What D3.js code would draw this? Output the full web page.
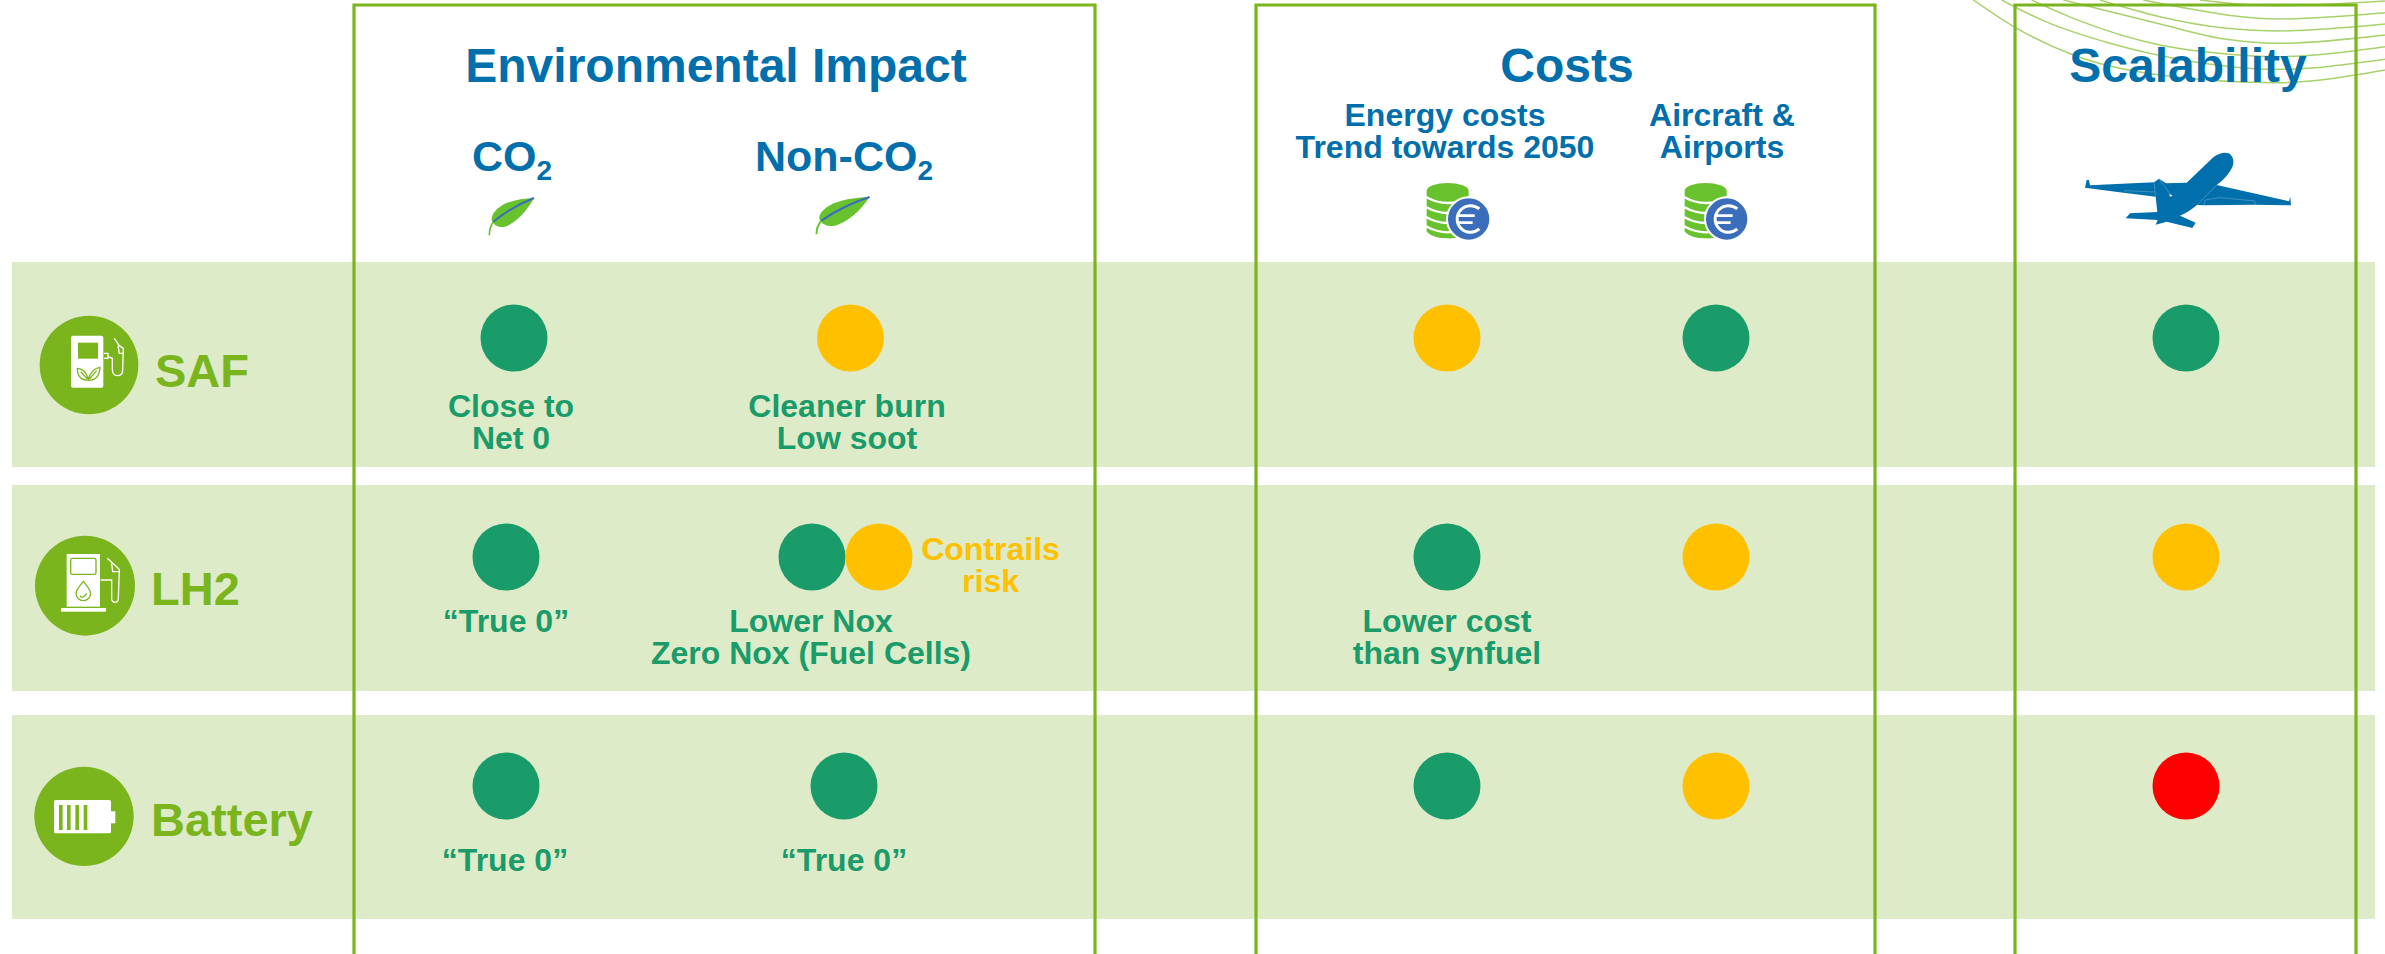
<!DOCTYPE html>
<html><head><meta charset="utf-8">
<style>html,body{margin:0;padding:0;background:#fff}svg{display:block}text{font-family:"Liberation Sans",Arial,sans-serif;font-weight:700}</style>
<script src="https://cdn.jsdelivr.net/npm/d3@7"></script></head>
<body><svg id="c" width="2385" height="954"></svg>
<script>
// ---------- data ----------
const rows = ["SAF", "LH2", "Battery"];
const columns = ["co2", "nonCo2", "energy", "infra", "scale"];
const statusLevels = ["good", "fair", "poor"];
const co2Status = [["good"], ["good"], ["good"]];
const nonCo2Status = [["fair"], ["good", "fair"], ["good"]];
const energyStatus = [["fair"], ["good"], ["good"]];
const infraStatus = [["good"], ["fair"], ["fair"]];
const scaleStatus = [["good"], ["fair"], ["poor"]];
const co2Notes = [["Close to", "Net 0"], ["“True 0”"], ["“True 0”"]];
const nonCo2Notes = [["Cleaner burn", "Low soot"], ["Lower Nox", "Zero Nox (Fuel Cells)"], ["“True 0”"]];
const energyNotes = [[], ["Lower cost", "than synfuel"], []];
const contrailNote = ["Contrails", "risk"];
const groupTitles = ["Environmental Impact", "Costs", "Scalability"];
const energyHead = ["Energy costs", "Trend towards 2050"];
const infraHead = ["Aircraft &", "Airports"];

// ---------- style + layout ----------
const C = {green:"#7AB51D", band:"#DEEBC8", blue:"#006FAC", leaf:"#67C22E", coinBlue:"#3A6EBB", arc:"#A9D16B"};
const colorOf = d3.scaleOrdinal(statusLevels, ["#1A9B6A", "#FFC000", "#FF0000"]);
const rowBand = d3.scaleOrdinal(rows, [[262,467],[485,691],[715,919]]);
const rowY = d3.scaleOrdinal(rows, [338,557,786]);
const colX = d3.scaleOrdinal(columns, [506,844,1447,1716,2186]);
const shift = {"SAF|co2":8, "SAF|nonCo2":6.5, "LH2|nonCo2":-32};
const R = 33.5, NOTE = 32, LINE = 32;
const svg = d3.select("#c");

// ---------- rows ----------
svg.append("g").selectAll("rect").data(rows).join("rect")
  .attr("x",12).attr("width",2363)
  .attr("y",d=>rowBand(d)[0]).attr("height",d=>rowBand(d)[1]-rowBand(d)[0])
  .attr("fill",C.band);

// ---------- decorative arcs ----------
const arcs = [
  [[40,0],[165,82],[340,165],[600,225],[950,248],[1275,210]],
  [[125,0],[250,62],[450,130],[700,185],[950,208],[1275,178]],
  [[215,0],[340,55],[600,135],[800,162],[950,170],[1275,140]],
  [[310,0],[430,30],[600,72],[800,118],[950,130],[1275,105]],
  [[420,0],[600,50],[800,85],[950,93],[1275,72]],
  [[550,0],[680,25],[800,45],[950,57],[1275,38]],
  [[720,0],[800,9],[950,17],[1275,3]]
];
const arcLine = d3.line().curve(d3.curveMonotoneX);
svg.append("g").attr("transform","translate(1960,0) scale(.3333)").selectAll("path").data(arcs).join("path")
  .attr("d",a=>arcLine(a))
  .attr("fill","none").attr("stroke",C.arc).attr("stroke-width",4.5);

// ---------- group frames ----------
const frames = [[354,1095],[1256,1875],[2015,2356]];
svg.append("g").selectAll("path").data(frames).join("path")
  .attr("d",f=>d3.line()([[f[0],956],[f[0],5],[f[1],5],[f[1],956]]))
  .attr("fill","none").attr("stroke",C.green).attr("stroke-width",3.2);

// ---------- headers ----------
const titleX = d3.scaleOrdinal(groupTitles,[716,1567,2188]);
svg.append("g").selectAll("text").data(groupTitles).join("text")
  .attr("x",d=>titleX(d)).attr("y",82).attr("text-anchor","middle")
  .attr("font-size",48).attr("fill",C.blue).text(d=>d);
function co2Head(prefix,x){
  const t = svg.append("text").attr("x",x).attr("y",171).attr("text-anchor","middle").attr("font-size",43).attr("fill",C.blue);
  t.append("tspan").text(prefix+"CO");
  t.append("tspan").attr("font-size",28).attr("dy",9).text("2");
}
co2Head("",512); co2Head("Non-",844);
function lines(g,arr,x,y,size,fill,lh){
  g.selectAll(null).data(arr).join("text").attr("x",x).attr("y",(d,i)=>y+i*lh)
   .attr("text-anchor","middle").attr("font-size",size).attr("fill",fill).text(d=>d);
}
const hd = svg.append("g");
lines(hd,energyHead,colX("energy")-2,126,NOTE,C.blue,LINE);
lines(hd,infraHead,1722,126,NOTE,C.blue,LINE);

// leaves
function leaf(tx,ty,sx,sy){
  const g = svg.append("g").attr("transform",`translate(${tx},${ty}) scale(${sx},${sy})`);
  g.append("path").attr("d","M40,95 Q28,112 28,136").attr("fill","none").attr("stroke",C.leaf).attr("stroke-width",5);
  g.append("path").attr("d","M162,24 C125,26 85,32 60,50 C40,65 32,80 36,92 C42,108 60,113 75,110 C105,100 140,65 162,24Z").attr("fill",C.leaf);
  g.append("path").attr("d","M162,24 Q95,50 40,95").attr("fill","none").attr("stroke",C.coinBlue).attr("stroke-width",6);
}
leaf(480,190,.3333,.3333); leaf(805.4,189,.396,.3333);

// coins
function coin(tx){
  const g = svg.append("g").attr("transform",`translate(${tx},175) scale(.3333)`);
  g.append("path").attr("d","M50,48 A63,24 0 0 1 176,48 L176,170 Q150,192 113,190 Q70,190 50,170Z").attr("fill",C.leaf);
  [72,102,132,160].forEach(y=>g.append("path").attr("d",`M48,${y-6} Q113,${y+30} 178,${y-6}`).attr("fill","none").attr("stroke","#fff").attr("stroke-width",7));
  g.append("circle").attr("cx",176).attr("cy",132).attr("r",65).attr("fill",C.coinBlue).attr("stroke","#fff").attr("stroke-width",6);
  g.append("path").attr("d","M208,102 A40,40 0 1 0 208,162").attr("fill","none").attr("stroke","#fff").attr("stroke-width",9);
  g.append("path").attr("d","M142,122 H194 M142,143 H188").attr("fill","none").attr("stroke","#fff").attr("stroke-width",8);
}
coin(1410); coin(1668);

// plane
const pl = svg.append("g").attr("transform","translate(2085,150) scale(.3333)");
pl.append("path").attr("fill",C.blue).attr("d","M0,113 L5,90 L12,90 L15,106 L207,97 L222,86 L243,100 L305,98 L385,22 Q410,3 432,10 Q452,25 442,52 Q425,85 395,105 L612,154 L616,140 L618,166 L510,164 L360,166 L336,165 Q310,187 285,197 L332,218 L322,234 L245,215 L212,224 L218,210 L122,205 L135,190 L217,186 L212,140 L115,128Z");
pl.append("path").attr("fill","none").attr("stroke","#7fb3d5").attr("stroke-width",1.5).attr("d","M117,128 L120,122 L208,126 M207,97 L212,140 M222,86 L258,136 M395,105 L336,165 M356,165 L360,150 L405,143 L510,153 L510,164");
pl.append("path").attr("fill","#fff").attr("d","M252,133 L263,136 L256,141Z");

// ---------- row icons ----------
function rowIcon(tx,ty,cx,cy,r,draw){
  const g = svg.append("g").attr("transform",`translate(${tx},${ty}) scale(.3333)`);
  g.append("circle").attr("cx",cx).attr("cy",cy).attr("r",r).attr("fill",C.green);
  draw(g);
}
const stroke = (g,d,w,c)=>g.append("path").attr("d",d).attr("fill","none").attr("stroke",c||"#fff").attr("stroke-width",w||4);
rowIcon(30,305,177,180,148,g=>{
  g.append("rect").attr("x",123).attr("y",92).attr("width",97).attr("height",156).attr("rx",6).attr("fill","#fff");
  g.append("rect").attr("x",144).attr("y",113).attr("width",60).attr("height",48).attr("fill",C.green);
  stroke(g,"M176,226 Q142,226 142,190 Q165,190 175,222 Q185,190 210,187 Q208,226 176,226 M152,200 L172,222 M200,197 L178,222",4,C.green);
  stroke(g,"M222,145 H234 V160 H222");
  stroke(g,"M253,100 L268,122 L280,130 L278,195 Q278,212 262,212 Q247,212 247,192 L247,160 L234,155");
  stroke(g,"M264,122 L268,145 L279,145");
});
rowIcon(30,530,165,167,150,g=>{
  g.append("rect").attr("x",110).attr("y",72).attr("width",100).attr("height",158).attr("fill","#fff");
  g.append("rect").attr("x",93).attr("y",234).attr("width",135).attr("height",11).attr("fill","#fff");
  g.append("rect").attr("x",122).attr("y",85).attr("width",76).attr("height",48).attr("rx",5).attr("fill","none").attr("stroke",C.green).attr("stroke-width",4);
  stroke(g,"M160,154 Q138,180 138,190 A22,22 0 0 0 182,190 Q182,180 160,154Z M150,198 Q160,208 170,190",4,C.green);
  stroke(g,"M212,150 H245 V205 Q245,217 255,217 Q265,217 265,205 L268,118 L232,85");
  stroke(g,"M245,100 L248,125 H268");
});
rowIcon(30,760,162,169,149,g=>{
  g.append("rect").attr("x",72).attr("y",120).attr("width",171).attr("height",100).attr("rx",5).attr("fill","#fff");
  g.append("rect").attr("x",243).attr("y",154).attr("width",13).attr("height",36).attr("fill","#fff");
  [87,111,136,161].forEach(x=>g.append("rect").attr("x",x).attr("y",135).attr("width",11).attr("height",75).attr("fill",C.green));
});
const rowLabelX = d3.scaleOrdinal(rows,[155,151,151]);
const rowLabelY = d3.scaleOrdinal(rows,[387,605,836]);
svg.append("g").selectAll("text").data(rows).join("text")
  .attr("x",d=>rowLabelX(d)).attr("y",d=>rowLabelY(d))
  .attr("font-size",47).attr("fill",C.green).text(d=>d);

// ---------- status dots + notes ----------
const statusByColumn = [co2Status,nonCo2Status,energyStatus,infraStatus,scaleStatus];
const cells = [];
rows.forEach((r,ri)=>columns.forEach((c,ci)=>{
  const base = colX(c)+(shift[r+"|"+c]||0);
  statusByColumn[ci][ri].forEach((s,k)=>cells.push({r,c,s,x:base+k*67}));
}));
svg.append("g").selectAll("circle").data(cells).join("circle")
  .attr("cx",d=>d.x).attr("cy",d=>rowY(d.r)).attr("r",R).attr("fill",d=>colorOf(d.s));

const noteBase = d3.scaleOrdinal(rows,[417,632,871]);
const noteG = svg.append("g");
const noteX = {co2:[511,506,505], nonCo2:[847,811,844], energy:[1447,1447,1447]};
[["co2",co2Notes],["nonCo2",nonCo2Notes],["energy",energyNotes]].forEach(([c,arr])=>{
  arr.forEach((n,i)=>lines(noteG,n,noteX[c][i],noteBase(rows[i]),NOTE,colorOf("good"),LINE));
});
lines(noteG,contrailNote,990.5,560,NOTE,colorOf("fair"),LINE);
</script></body></html>
